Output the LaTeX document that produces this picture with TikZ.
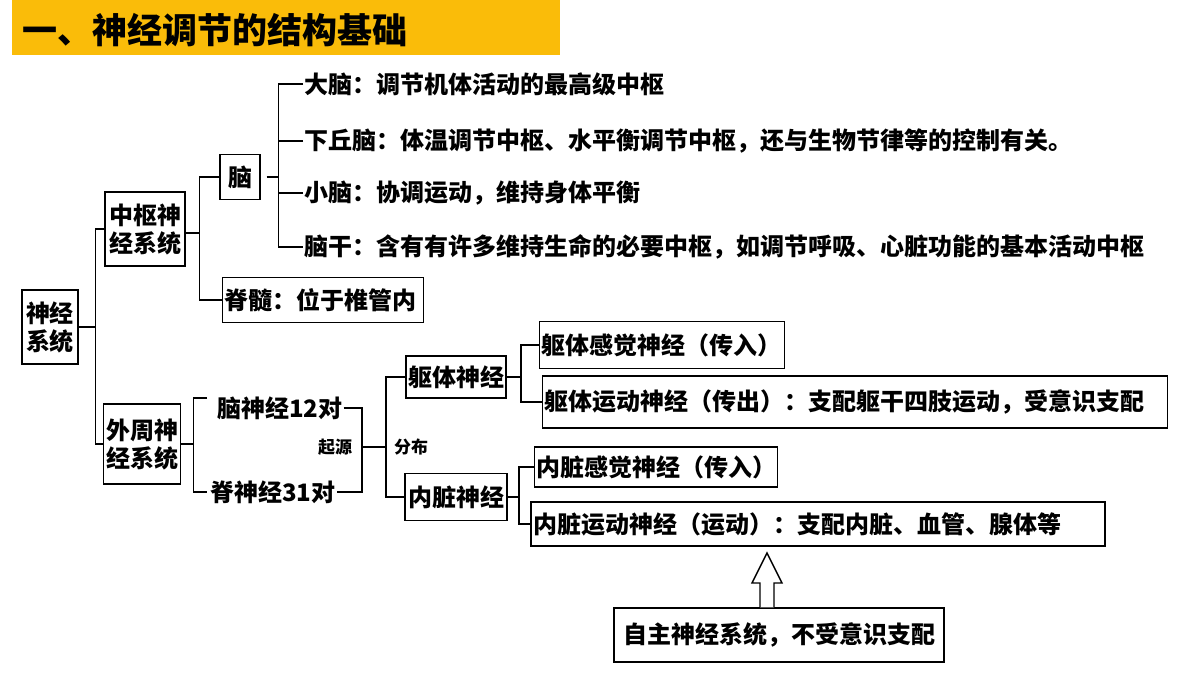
\documentclass[tikz,border=0pt]{standalone}
\usepackage{fontspec}
\setmainfont{Noto Sans CJK SC}
\usetikzlibrary{positioning,calc}
\tikzset{
  box/.style={draw, line width=1.4pt, inner sep=2pt, align=center, font=\bfseries\fontsize{24}{28}\selectfont},
  leftbox/.style={box, align=left, text width=#1},
  lbl/.style={inner sep=1pt, anchor=west, font=\bfseries\fontsize{24}{28}\selectfont},
  tiny/.style={inner sep=1pt, font=\bfseries\fontsize{17}{20}\selectfont},
  link/.style={line width=1.4pt}
}
\begin{document}
\begin{tikzpicture}[x=1pt,y=-1pt]
\useasboundingbox (0,0) rectangle (1200,675);

% Title bar
\fill[yellow!50!orange] (12,0) rectangle (560,55);
\node[anchor=west, inner sep=0pt, font=\bfseries\fontsize{35}{38}\selectfont] (title) at (22,30) {一、神经调节的结构基础};

% Central nervous system
\node[box, minimum width=56pt, minimum height=74pt] (ns) at (50,327) {神经\\系统};
\node[box, minimum width=80pt, minimum height=74pt] (cns) at (145,229) {中枢神\\经系统};
\node[box, minimum width=40pt, minimum height=45pt] (brain) at (240,177) {脑};
\node[leftbox=197pt, minimum height=45pt] (cord) at (323,300) {脊髓：位于椎管内};
\node[lbl] (cerebrum) at (303,84) {大脑：调节机体活动的最高级中枢};
\node[lbl] (hypo) at (303,141) {下丘脑：体温调节中枢、水平衡调节中枢，还与生物节律等的控制有关。};
\node[lbl] (cbl) at (303,193) {小脑：协调运动，维持身体平衡};
\node[lbl] (stem) at (303,247) {脑干：含有有许多维持生命的必要中枢，如调节呼吸、心脏功能的基本活动中枢};

% Peripheral nervous system
\node[box, minimum width=77pt, minimum height=80pt] (pns) at (142,444) {外周神\\经系统};
\node[lbl] (cranial) at (216,408) {脑神经12对};
\node[lbl] (spinal) at (209,492) {脊神经31对};
\node[tiny] (origin) at (335,447) {起源};
\node[tiny] (distrib) at (411,447) {分布};
\node[box, minimum width=100pt, minimum height=42pt] (soma) at (456,377) {躯体神经};
\node[box, minimum width=102pt, minimum height=47pt] (visc) at (456,497) {内脏神经};
\node[leftbox=241pt, minimum height=47pt] (somasen) at (662,345) {躯体感觉神经（传入）};
\node[leftbox=621pt, minimum height=52pt] (somamot) at (855,402) {躯体运动神经（传出）：支配躯干四肢运动，受意识支配};
\node[leftbox=239pt, minimum height=40pt] (viscsen) at (656,467) {内脏感觉神经（传入）};
\node[leftbox=570pt, minimum height=44pt] (viscmot) at (818,524) {内脏运动神经（运动）：支配内脏、血管、腺体等};
\node[box, minimum width=330pt, minimum height=54pt] (auto) at (779,635) {自主神经系统，不受意识支配};

% Brackets
\coordinate (j1) at ($(ns.east)+(17,0)$);
\draw[link] (ns.east) -- (j1);
\draw[link] (cns.west) -| (j1) |- (pns.west);
\coordinate (j2) at ($(cns.east)+(14,4)$);
\draw[link] (cns.east |- j2) -- (j2);
\draw[link] (brain.west) -| (j2) |- (cord.west);
\coordinate (j3) at ($(brain.east)+(18,0)$);
\draw[link] ($(brain.east)+(6,0)$) -- (j3);
\draw[link] (cerebrum.west) -| (j3) |- (stem.west);
\draw[link] (hypo.west) -- (hypo.west -| j3);
\draw[link] (cbl.west) -- (cbl.west -| j3);
\coordinate (j4) at ($(pns.east)+(12,0)$);
\draw[link] (pns.east) -- (j4);
\draw[link] ($(cranial.west)+(-9,-10)$) -| (j4) |- ($(spinal.west)+(-2,0)$);
\coordinate (j5) at (362,447);
\draw[link] (cranial.east) -| (j5) |- (spinal.east);
\coordinate (j6) at (386,447);
\draw[link] (j5) -- (j6);
\draw[link] (soma.west) -| (j6) |- (visc.west);
\coordinate (j7) at (521,377);
\draw[link] (soma.east) -- (j7);
\draw[link] (somasen.west) -| (j7) |- (somamot.west);
\coordinate (j8) at (519,497);
\draw[link] (visc.east) -- (j8);
\draw[link] (viscsen.west) -| (j8) |- (viscmot.west);

% Hollow arrow
\draw[line width=1.4pt, fill=white] (auto.north -| 760,0) -- (760,583) -- (752,583) -- (767,553) -- (782,583) -- (774,583) -- (auto.north -| 774,0);
\end{tikzpicture}
\end{document}
